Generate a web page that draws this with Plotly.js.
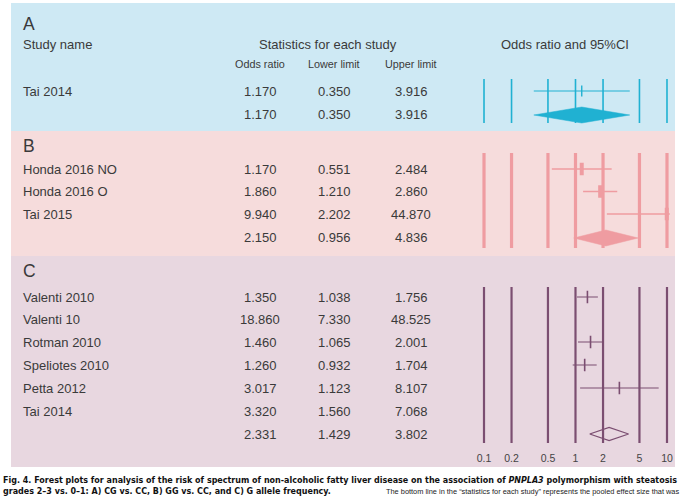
<!DOCTYPE html>
<html><head><meta charset="utf-8">
<script src="https://cdn.plot.ly/plotly-3.0.1.min.js"></script>
<style>html,body{margin:0;padding:0;background:#fff}#chart{width:683px;height:498px}</style>
</head><body><div id="chart"></div>
<script>
// ---------- DATA ----------
const tickValues = [0.1, 0.2, 0.5, 1, 2, 5, 10];
const tickLabels = ['0.1', '0.2', '0.5', '1', '2', '5', '10'];

const studiesA = ['Tai 2014'];
const oddsA = [1.170];
const lowerA = [0.350];
const upperA = [3.916];
const pooledA = [1.170, 0.350, 3.916];

const studiesB = ['Honda 2016 NO', 'Honda 2016 O', 'Tai 2015'];
const oddsB = [1.170, 1.860, 9.940];
const lowerB = [0.551, 1.210, 2.202];
const upperB = [2.484, 2.860, 44.870];
const pooledB = [2.150, 0.956, 4.836];

const studiesC = ['Valenti 2010', 'Valenti 10', 'Rotman 2010', 'Speliotes 2010', 'Petta 2012', 'Tai 2014'];
const oddsC = [1.350, 18.860, 1.460, 1.260, 3.017, 3.320];
const lowerC = [1.038, 7.330, 1.065, 0.932, 1.123, 1.560];
const upperC = [1.756, 48.525, 2.001, 1.704, 8.107, 7.068];
const pooledC = [2.331, 1.429, 3.802];
// rows whose interval appears in the reference plot
const plottedC = [true, false, true, true, true, false];

// ---------- LAYOUT ----------
const W = 683, H = 498;
const px = x => x / W;
const py = y => 1 - y / H;
const TXT = '#3a3a3a';
const FONT = 'Liberation Sans, Arial, sans-serif';

const panels = [
  {letter: 'A', studies: studiesA, odds: oddsA, lo: lowerA, hi: upperA, pooled: pooledA,
   plotted: [true], bg: '#cee9f4', col: '#20b1d2', top: 3, bottom: 131, letterY: 24.5,
   rows: [91], pooledY: 115, gridTop: 79, gridBot: 123, gridW: 1.6, ciW: 1,
   mSize: 8, mW: 1.4, dH: 8, fill: true},
  {letter: 'B', studies: studiesB, odds: oddsB, lo: lowerB, hi: upperB, pooled: pooledB,
   plotted: [true, true, true], bg: '#f6dcdc', col: '#ef9ca1', top: 131, bottom: 256, letterY: 145.5,
   rows: [169, 191.5, 214], pooledY: 238, gridTop: 153, gridBot: 248, gridW: 3.2, ciW: 1.3,
   mSize: 9, mW: 4, dH: 8, fill: true},
  {letter: 'C', studies: studiesC, odds: oddsC, lo: lowerC, hi: upperC, pooled: pooledC,
   plotted: plottedC, bg: '#e8d7e0', col: '#7b4e71', top: 256, bottom: 467, letterY: 270.5,
   rows: [297, 319.5, 342, 365, 388, 411], pooledY: 434, gridTop: 287, gridBot: 443, gridW: 2.2, ciW: 1.1,
   mSize: 9, mW: 1.6, dH: 6.5, fill: false}
];

const traces = [];
const shapes = [];
const annotations = [];
function ann(text, x, y, size, anchor, extra) {
  annotations.push(Object.assign({
    text: text, x: px(x), y: py(y), xref: 'paper', yref: 'paper', showarrow: false,
    xanchor: anchor || 'left', yanchor: 'middle',
    font: {family: FONT, size: size, color: TXT}
  }, extra || {}));
}
const fmt = v => v.toFixed(3);
const colX = [260, 334, 411];

panels.forEach(p => {
  shapes.push({type: 'rect', xref: 'paper', yref: 'paper', layer: 'below',
    x0: px(11), x1: px(675), y0: py(p.bottom), y1: py(p.top),
    fillcolor: p.bg, line: {width: 0}});
  ann(p.letter, 20.5, p.letterY, 17.5, 'left');

  // gridlines
  const gx = [], gy = [];
  tickValues.forEach(v => { gx.push(v, v, null); gy.push(p.gridTop, p.gridBot, null); });
  traces.push({x: gx, y: gy, mode: 'lines', line: {color: p.col, width: p.gridW}, hoverinfo: 'skip'});

  // confidence intervals + point estimates
  const cx = [], cy = [], mx = [], my = [];
  p.studies.forEach((s, i) => {
    ann(s, 21, p.rows[i], 13, 'left');
    ann(fmt(p.odds[i]), colX[0], p.rows[i], 13, 'center');
    ann(fmt(p.lo[i]), colX[1], p.rows[i], 13, 'center');
    ann(fmt(p.hi[i]), colX[2], p.rows[i], 13, 'center');
    if (!p.plotted[i]) return;
    cx.push(p.lo[i], p.hi[i], null); cy.push(p.rows[i], p.rows[i], null);
    mx.push(p.odds[i]); my.push(p.rows[i]);
  });
  traces.push({x: cx, y: cy, mode: 'lines', line: {color: p.col, width: p.ciW}, hoverinfo: 'skip'});
  traces.push({x: mx, y: my, mode: 'markers', hoverinfo: 'skip',
    marker: {symbol: 'line-ns-open', size: p.mSize, color: p.col, line: {color: p.col, width: p.mW}}});

  // pooled diamond
  const [po, pl, ph] = p.pooled;
  const yc = p.pooledY;
  traces.push({x: [pl, po, ph, po, pl], y: [yc, yc - p.dH, yc, yc + p.dH, yc],
    mode: 'lines', fill: p.fill ? 'toself' : 'none', fillcolor: p.col,
    line: {color: p.col, width: p.fill ? 0.5 : 1.2}, hoverinfo: 'skip'});
  ann(fmt(po), colX[0], yc, 13, 'center');
  ann(fmt(pl), colX[1], yc, 13, 'center');
  ann(fmt(ph), colX[2], yc, 13, 'center');
});

// headers (panel A)
ann('Study name', 21, 44.5, 13, 'left');
ann('Statistics for each study', 328, 44.5, 13, 'center');
ann('Odds ratio', colX[0], 64, 10.8, 'center');
ann('Lower limit', colX[1], 64, 10.8, 'center');
ann('Upper limit', colX[2], 64, 10.8, 'center');
ann('Odds ratio and 95%CI', 565, 44.5, 13, 'center');

// tick labels
traces.push({x: tickValues, y: tickValues.map(() => 459.5), mode: 'text', text: tickLabels,
  textfont: {family: FONT, size: 10.5, color: '#444'}, cliponaxis: false, hoverinfo: 'skip'});

// caption
const CAP = 'DejaVu Sans, Verdana, sans-serif';
ann('<b>Fig. 4. Forest plots for analysis of the risk of spectrum of non-alcoholic fatty liver disease on the association of <i>PNPLA3</i> polymorphism with steatosis</b>',
    1, 480, 8, 'left', {font: {family: CAP, size: 8, color: '#111'}});
ann('<b>grades 2\u20133 vs. 0\u20131: A) CG vs. CC, B) GG vs. CC, and C) G allele frequency.</b>',
    1, 491, 8, 'left', {font: {family: CAP, size: 8, color: '#111'}});
ann('The bottom line in the \u201cstatistics for each study\u201d represents the pooled effect size that was',
    681, 491, 7.4, 'right', {font: {family: FONT, size: 7.4, color: '#222'}});

const pad = 0.03, pxPerDec = 91.5;
const layout = {
  width: W, height: H, margin: {l: 0, r: 0, t: 0, b: 0, pad: 0},
  paper_bgcolor: '#ffffff', plot_bgcolor: 'rgba(0,0,0,0)', showlegend: false,
  xaxis: {type: 'log', range: [-1 - pad, 1 + pad],
          domain: [(484 - pad * pxPerDec) / W, (667 + pad * pxPerDec) / W],
          visible: false, fixedrange: true},
  yaxis: {range: [H, 0], domain: [0, 1], visible: false, fixedrange: true},
  shapes: shapes, annotations: annotations
};
Plotly.newPlot('chart', traces, layout, {staticPlot: true, displayModeBar: false});
</script></body></html>
